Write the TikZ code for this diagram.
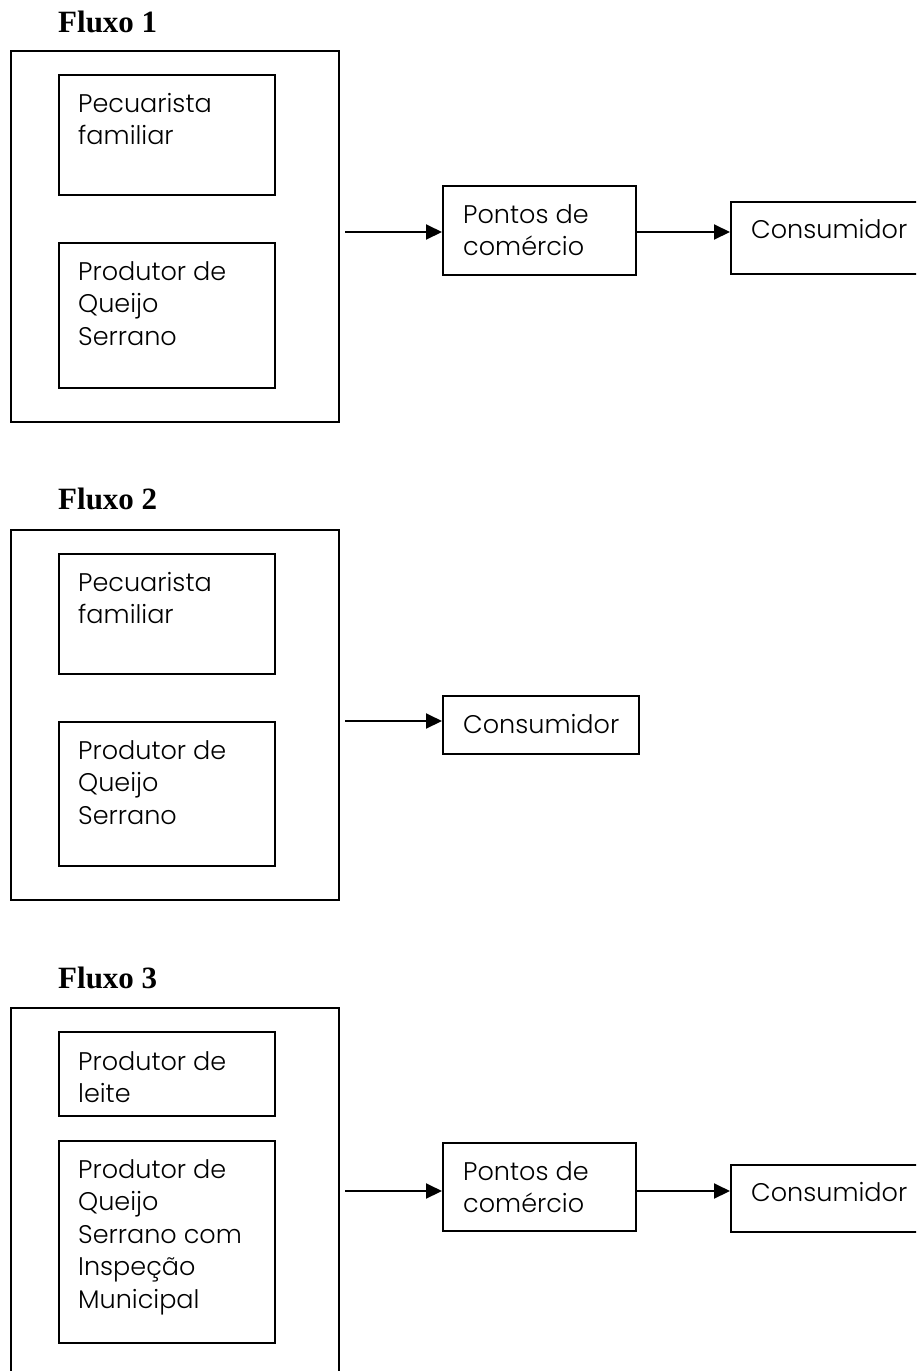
\documentclass[tikz,border=0pt]{standalone}
\usepackage{fontspec}
\setmainfont{Liberation Serif}
\newfontfamily\boxfont{Poppins Light}
\usetikzlibrary{arrows.meta,calc}
\begin{document}
\begin{tikzpicture}[x=1pt,y=-1pt,
  frame/.style={draw, line width=2.3pt, rectangle, inner sep=0pt, anchor=north west},
  ttl/.style={anchor=base west, inner sep=0pt, font=\bfseries\fontsize{31}{36}\selectfont},
  txt/.style={anchor=north west, inner sep=0pt, align=left, font=\boxfont\fontsize{25.5}{32.5}\selectfont},
  arr/.style={line width=2pt, -{Triangle[length=16pt,width=15pt]}}]
\path[use as bounding box, clip] (0,0) rectangle (916,1371);
\fill[white] (0,0) rectangle (916,1371);

% ---------- Fluxo 1 ----------
\node[ttl] (t1) at (58,32) {Fluxo 1};
\node[frame, minimum width=328pt, minimum height=371pt] (o1) at (10,50) {};
\node[frame, minimum width=216pt, minimum height=120pt] (o1a) at (58,74) {};
\node[txt] (o1at) at ($(o1a.north west)+(20,19)$) {Pecuarista\\familiar};
\node[frame, minimum width=216pt, minimum height=145pt] (o1b) at (58,242) {};
\node[txt] (o1bt) at ($(o1b.north west)+(20,19)$) {Produtor de\\Queijo\\Serrano};
\node[frame, minimum width=193pt, minimum height=89pt] (p1) at (442,185) {};
\node[txt] (p1t) at ($(p1.north west)+(21,19)$) {Pontos de\\comércio};
\node[frame, minimum width=196pt, minimum height=72pt] (c1) at (730,201) {};
\node[txt] (c1t) at ($(c1.north west)+(21,18)$) {Consumidor};
\coordinate (a1) at (345,232);
\draw[arr] (a1) -- (a1 -| p1.west);
\draw[arr] (a1 -| p1.east) -- (a1 -| c1.west);

% ---------- Fluxo 2 ----------
\node[ttl] (t2) at (58,509) {Fluxo 2};
\node[frame, minimum width=328pt, minimum height=370pt] (o2) at (10,529) {};
\node[frame, minimum width=216pt, minimum height=120pt] (o2a) at (58,553) {};
\node[txt] (o2at) at ($(o2a.north west)+(20,19)$) {Pecuarista\\familiar};
\node[frame, minimum width=216pt, minimum height=144pt] (o2b) at (58,721) {};
\node[txt] (o2bt) at ($(o2b.north west)+(20,19)$) {Produtor de\\Queijo\\Serrano};
\node[frame, minimum width=196pt, minimum height=58pt] (c2) at (442,695) {};
\node[txt] (c2t) at ($(c2.north west)+(21,19)$) {Consumidor};
\coordinate (a2) at (345,721);
\draw[arr] (a2) -- (a2 -| c2.west);

% ---------- Fluxo 3 ----------
\node[ttl] (t3) at (58,988) {Fluxo 3};
\node[frame, minimum width=328pt, minimum height=400pt] (o3) at (10,1007) {};
\node[frame, minimum width=216pt, minimum height=84pt] (o3a) at (58,1031) {};
\node[txt] (o3at) at ($(o3a.north west)+(20,20)$) {Produtor de\\leite};
\node[frame, minimum width=216pt, minimum height=202pt] (o3b) at (58,1140) {};
\node[txt] (o3bt) at ($(o3b.north west)+(20,19)$) {Produtor de\\Queijo\\Serrano com\\Inspeção\\Municipal};
\node[frame, minimum width=193pt, minimum height=88pt] (p3) at (442,1142) {};
\node[txt] (p3t) at ($(p3.north west)+(21,19)$) {Pontos de\\comércio};
\node[frame, minimum width=196pt, minimum height=67pt] (c3) at (730,1164) {};
\node[txt] (c3t) at ($(c3.north west)+(21,18)$) {Consumidor};
\coordinate (a3) at (345,1191);
\draw[arr] (a3) -- (a3 -| p3.west);
\draw[arr] (a3 -| p3.east) -- (a3 -| c3.west);
\end{tikzpicture}
\end{document}
